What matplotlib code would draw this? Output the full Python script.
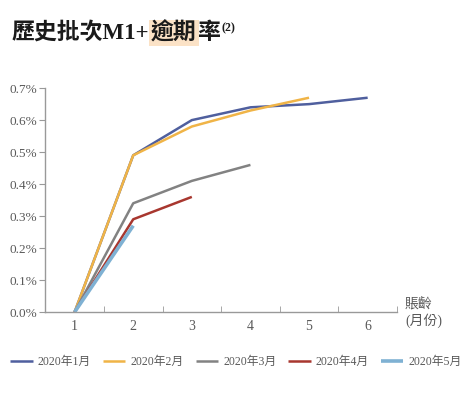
import matplotlib
matplotlib.use("Agg")
import matplotlib.pyplot as plt
from matplotlib.ticker import FuncFormatter

plt.rcParams['font.family'] = ['Liberation Serif', 'Noto Sans CJK TC']

# ------------------ 数据 ------------------
months = [1, 2, 3, 4, 5, 6]
series_names = ["2020年1月", "2020年2月", "2020年3月", "2020年4月", "2020年5月"]
jan = [0.0, 0.49, 0.60, 0.64, 0.65, 0.67]
feb = [0.0, 0.49, 0.58, 0.63, 0.67]
mar = [0.0, 0.34, 0.41, 0.46]
apr = [0.0, 0.29, 0.36]
may = [0.0, 0.27]

colors = ["#4f5f9e", "#f0b447", "#828282", "#a8372f", "#7fb1d3"]
widths = [1.8, 1.8, 1.8, 1.8, 2.6]
gray = "#595959"

fig = plt.figure(figsize=(4.72, 3.97), dpi=100)
ax = fig.add_axes([0.096, 0.214, 0.745, 0.564])

for name, vals, c, w in zip(series_names, [jan, feb, mar, apr, may], colors, widths):
    ax.plot(months[:len(vals)], vals, color=c, lw=w, label=name, solid_capstyle='butt')

ax.set_xlim(0.5, 6.5)
ax.set_ylim(0, 0.7)
ax.set_yticks([i / 10 for i in range(8)])
ax.yaxis.set_major_formatter(FuncFormatter(lambda v, p: f"{v:.1f}%"))
# 类别轴: 刻度在类别之间
ax.set_xticks(months)
ax.set_xticks([1.5, 2.5, 3.5, 4.5, 5.5, 6.5], minor=True)
ax.tick_params(axis='x', which='major', length=0, pad=6, labelsize=10, labelcolor=gray)
ax.tick_params(axis='x', which='minor', length=4, color="#999999", direction='in')
ax.tick_params(axis='y', length=4, color="#999999", labelsize=9.5, labelcolor=gray, pad=2)

for s in ['top', 'right']:
    ax.spines[s].set_visible(False)
for s in ['left', 'bottom']:
    ax.spines[s].set_color("#999999")
    ax.spines[s].set_linewidth(1.0)

fig.text(0.858, 0.213, "賬齡\n(月份)", ha='left', va='center', fontsize=10,
         color=gray, linespacing=1.3)

fig.legend(loc='center', bbox_to_anchor=(0.5, 0.088), ncol=5, frameon=False,
           fontsize=8.5, handlelength=1.9, handletextpad=0.45, columnspacing=1.0,
           labelcolor=gray, borderaxespad=0, borderpad=0)

# ------------------ 标题 ------------------
fig.canvas.draw()
r = fig.canvas.get_renderer()
tfont = dict(fontsize=16.5, fontweight='bold', color="#1a1a1a",
             family=['Liberation Serif', 'Noto Sans CJK TC'])
x0, y0 = 12 / 472, 1 - 33 / 397
t1 = fig.text(x0, y0, "歷史批次M1+", va='center', ha='left', **tfont)
bb = t1.get_window_extent(r)
t2 = fig.text(bb.x1 / 472 + 0.003, y0, "逾期", va='center', ha='left',
              bbox=dict(boxstyle='square,pad=0.1', fc='#fbe2c6', ec='none'), **tfont)
bb = t2.get_window_extent(r)
t3 = fig.text(bb.x1 / 472 + 0.001, y0, "率", va='center', ha='left', **tfont)
bb = t3.get_window_extent(r)
fig.text(bb.x1 / 472 + 0.002, y0 + 0.012, "(2)", va='center', ha='left',
         fontsize=8.5, fontweight='bold', color="#1a1a1a", family='Liberation Serif')

fig.savefig("out.png", dpi=100)
